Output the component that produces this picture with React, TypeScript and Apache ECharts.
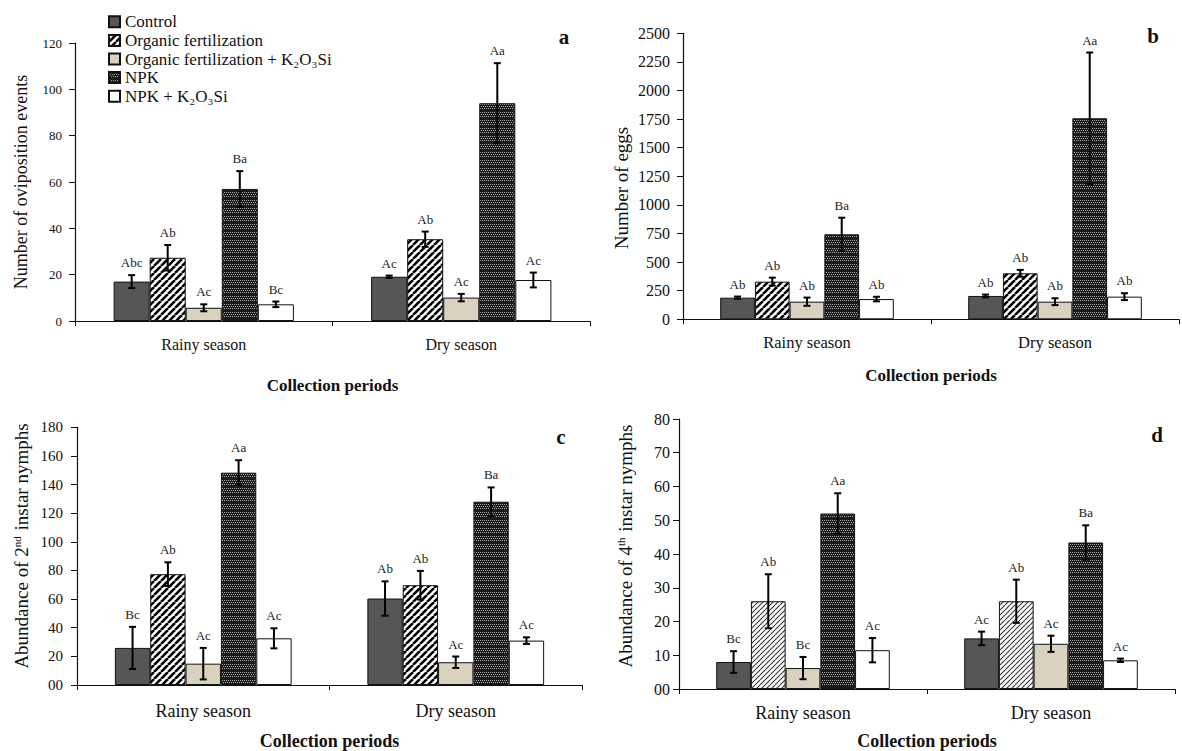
import React, { useEffect, useRef } from 'react';
import * as echarts from 'echarts';

// ---- data ---------------------------------------------------------------
const periods = ['Rainy season', 'Dry season'];
const treatments = [
  'Control',
  'Organic fertilization',
  'Organic fertilization + K₂O₃Si',
  'NPK',
  'NPK + K₂O₃Si',
];

// (a) number of oviposition events, one row per treatment: [rainy, dry]
const ovipositionMean = [[17, 19.1], [27.3, 35.3], [5.7, 10.1], [57, 94], [7.2, 17.7]];
const ovipositionErr = [[2.8, 0.5], [5.5, 3.3], [1.5, 1.6], [7.7, 17.3], [1.2, 3.2]];
const ovipositionLetters = [['Abc', 'Ac'], ['Ab', 'Ab'], ['Ac', 'Ac'], ['Ba', 'Aa'], ['Bc', 'Ac']];

// (b) number of eggs
const eggsMean = [[189, 204], [329, 402], [154, 154], [743, 1757], [177, 198]];
const eggsErr = [[10, 12], [35, 30], [36, 30], [145, 575], [20, 30]];
const eggsLetters = [['Ab', 'Ab'], ['Ab', 'Ab'], ['Ab', 'Ab'], ['Ba', 'Aa'], ['Ab', 'Ab']];

// (c) abundance of 2nd instar nymphs
const nymph2Mean = [[25.9, 60.4], [77.4, 69.7], [14.9, 15.9], [148.3, 128], [32.6, 31]];
const nymph2Err = [[14.7, 12], [8.3, 10], [11, 4], [8.7, 10], [7, 2.3]];
const nymph2Letters = [['Bc', 'Ab'], ['Ab', 'Ab'], ['Ac', 'Ac'], ['Aa', 'Ba'], ['Ac', 'Ac']];

// (d) abundance of 4th instar nymphs
const nymph4Mean = [[8, 15], [26, 26], [6.2, 13.4], [52, 43.4], [11.5, 8.5]];
const nymph4Err = [[3.2, 2], [8, 6.4], [3.3, 2.4], [6, 5.1], [3.6, 0.5]];
const nymph4Letters = [['Bc', 'Ac'], ['Ab', 'Ab'], ['Bc', 'Ac'], ['Aa', 'Ba'], ['Ac', 'Ac']];

// ---- styling helpers -----------------------------------------------------
const SERIF = 'Liberation Serif';
const INK = '#111';

function stripes(size: number, lineW: number, color: string) {
  const c = document.createElement('canvas');
  c.width = size;
  c.height = size;
  const g = c.getContext('2d')!;
  g.fillStyle = '#fff';
  g.fillRect(0, 0, size, size);
  g.strokeStyle = color;
  g.lineWidth = lineW;
  for (let k = -1; k <= 1; k++) {
    g.beginPath();
    g.moveTo(k * size, size);
    g.lineTo(k * size + size, 0);
    g.stroke();
  }
  return { image: c, repeat: 'repeat', imageWidth: size, imageHeight: size } as any;
}

function dotted() {
  const w = 4;
  const h = 8;
  const c = document.createElement('canvas');
  c.width = w;
  c.height = h;
  const g = c.getContext('2d')!;
  g.fillStyle = '#1c1c1c';
  g.fillRect(0, 0, w, h);
  g.fillStyle = '#a8a8a8';
  for (let y = 0; y < h; y += 2) {
    if (y === 6) continue;
    for (let x = (y / 2) % 2; x < w; x += 2) g.fillRect(x, y, 1, 1);
  }
  return { image: c, repeat: 'repeat', imageWidth: w, imageHeight: h } as any;
}

interface Panel {
  mean: number[][];
  err: number[][];
  letters: string[][];
  grid: { left: number; top: number; width: number; height: number };
  max: number;
  interval: number;
  zeroLabel: string;
  tickFont: number;
  tickMargin: number;
  catFont: number;
  catMargin: number;
  nameGap: number;
  nameFont: number;
  thinStripes?: boolean;
}

const panels: Panel[] = [
  {
    mean: ovipositionMean, err: ovipositionErr, letters: ovipositionLetters,
    grid: { left: 75, top: 43, width: 515, height: 278 },
    max: 120, interval: 20, zeroLabel: '0', tickFont: 13, tickMargin: 13,
    catFont: 16, catMargin: 15, nameGap: 56, nameFont: 17,
  },
  {
    mean: eggsMean, err: eggsErr, letters: eggsLetters,
    grid: { left: 683, top: 33.3, width: 496, height: 286 },
    max: 2500, interval: 250, zeroLabel: '0', tickFont: 16, tickMargin: 13,
    catFont: 16.5, catMargin: 15, nameGap: 48, nameFont: 17,
  },
  {
    mean: nymph2Mean, err: nymph2Err, letters: nymph2Letters,
    grid: { left: 77, top: 427.3, width: 505, height: 261 },
    max: 180, interval: 20, zeroLabel: '00', tickFont: 15, tickMargin: 14,
    catFont: 18, catMargin: 17, nameGap: 47, nameFont: 18,
  },
  {
    mean: nymph4Mean, err: nymph4Err, letters: nymph4Letters,
    grid: { left: 679, top: 419, width: 496, height: 274.3 },
    max: 80, interval: 10, zeroLabel: '00', tickFont: 16, tickMargin: 9,
    catFont: 18, catMargin: 15, nameGap: 43, nameFont: 18, thinStripes: true,
  },
];

const GROUP_SHARE = 0.7; // share of each category band covered by the bars

export default function App() {
  const ref = useRef<HTMLDivElement>(null);

  useEffect(() => {
    if (!ref.current) return;
    const chart = echarts.init(ref.current, undefined, { renderer: 'svg' });

    const fills = [
      '#565656',
      stripes(7, 2.6, '#000'),
      '#d8d2be',
      dotted(),
      '#ffffff',
    ];
    const thinFill = stripes(5, 1.1, '#333');

    const grids: any[] = [];
    const xAxes: any[] = [];
    const yAxes: any[] = [];
    const series: any[] = [];

    panels.forEach((p, pi) => {
      grids.push({ ...p.grid, containLabel: false });
      xAxes.push({
        type: 'category',
        gridIndex: pi,
        data: periods,
        axisLine: { show: true, lineStyle: { color: INK, width: 1.2 } },
        axisTick: { show: true, length: 5, alignWithLabel: false, lineStyle: { color: INK } },
        axisLabel: { fontFamily: SERIF, fontSize: p.catFont, color: INK, margin: p.catMargin },
        name: 'Collection periods',
        nameLocation: 'middle',
        nameGap: p.nameGap,
        nameTextStyle: { fontFamily: SERIF, fontSize: p.nameFont, fontWeight: 'bold', color: INK },
      });
      yAxes.push({
        type: 'value',
        gridIndex: pi,
        min: 0,
        max: p.max,
        interval: p.interval,
        splitLine: { show: false },
        axisLine: { show: true, lineStyle: { color: INK, width: 1.2 } },
        axisTick: { show: true, length: 6, lineStyle: { color: INK } },
        axisLabel: {
          fontFamily: SERIF,
          fontSize: p.tickFont,
          color: INK,
          margin: p.tickMargin,
          formatter: (v: number) => (v === 0 ? p.zeroLabel : String(v)),
        },
      });

      treatments.forEach((name, ti) => {
        const fill = ti === 1 && p.thinStripes ? thinFill : fills[ti];
        series.push({
          type: 'bar',
          name,
          xAxisIndex: pi,
          yAxisIndex: pi,
          barGap: '0%',
          barCategoryGap: '30%',
          data: p.mean[ti],
          itemStyle: { color: fill, borderColor: INK, borderWidth: 1 },
          emphasis: { disabled: true },
          z: 2,
        });
      });

      // error bars and significance letters, one custom series per treatment
      treatments.forEach((_, ti) => {
        series.push({
          type: 'custom',
          xAxisIndex: pi,
          yAxisIndex: pi,
          z: 5,
          clip: false,
          silent: true,
          data: p.mean[ti].map((m, ci) => [ci, m, p.err[ti][ci]]),
          renderItem: (params: any, api: any) => {
            const ci = api.value(0);
            const m = api.value(1);
            const e = api.value(2);
            const band = api.size([1, 0])[0];
            const bw = (band * GROUP_SHARE) / treatments.length;
            const center = api.coord([ci, 0])[0];
            const x = center - (band * GROUP_SHARE) / 2 + bw * (ti + 0.5);
            const yTop = api.coord([ci, m + e])[1];
            const yBot = api.coord([ci, Math.max(m - e, 0)])[1];
            const cap = 3.5;
            const ls = { stroke: '#000', lineWidth: 2 };
            return {
              type: 'group',
              children: [
                { type: 'line', shape: { x1: x, y1: yTop, x2: x, y2: yBot }, style: ls },
                { type: 'line', shape: { x1: x - cap, y1: yTop, x2: x + cap, y2: yTop }, style: ls },
                { type: 'line', shape: { x1: x - cap, y1: yBot, x2: x + cap, y2: yBot }, style: ls },
                {
                  type: 'text',
                  x,
                  y: yTop - 6,
                  style: {
                    text: p.letters[ti][params.dataIndex],
                    align: 'center',
                    verticalAlign: 'bottom',
                    fontFamily: SERIF,
                    fontSize: 13,
                    fill: '#222',
                  },
                },
              ],
            };
          },
        });
      });
    });

    const yName = (x: number, y: number, text: string, size: number, rich?: boolean) => ({
      type: 'text',
      x,
      y,
      rotation: Math.PI / 2,
      style: {
        text,
        align: 'center',
        verticalAlign: 'middle',
        fontFamily: SERIF,
        fontSize: size,
        fill: INK,
        rich: rich
          ? { s: { fontFamily: SERIF, fontSize: 11, verticalAlign: 'top', fill: INK, padding: [0, 1, 0, 0] } }
          : undefined,
      },
    });
    const panelTag = (x: number, y: number, text: string) => ({
      type: 'text',
      x,
      y,
      style: {
        text,
        align: 'center',
        verticalAlign: 'middle',
        fontFamily: SERIF,
        fontSize: 21,
        fontWeight: 'bold',
        fill: INK,
      },
    });

    chart.setOption({
      animation: false,
      textStyle: { fontFamily: SERIF },
      legend: {
        data: treatments,
        orient: 'vertical',
        left: 108,
        top: 12.5,
        padding: 0,
        itemGap: 0,
        itemWidth: 11,
        itemHeight: 11,
        icon: 'rect',
        selectedMode: false,
        textStyle: { fontFamily: SERIF, fontSize: 17, color: INK, lineHeight: 18.6 },
      },
      grid: grids,
      xAxis: xAxes,
      yAxis: yAxes,
      series,
      graphic: [
        yName(21, 182, 'Number of oviposition events', 18),
        yName(621, 188, 'Number of eggs', 19),
        yName(21, 546, 'Abundance of 2{s|nd} instar nymphs', 19, true),
        yName(625, 546, 'Abundance of 4{s|th} instar nymphs', 19, true),
        panelTag(564, 37, 'a'),
        panelTag(1153, 36, 'b'),
        panelTag(561, 437, 'c'),
        panelTag(1157, 435, 'd'),
      ],
    });

    return () => chart.dispose();
  }, []);

  return (
    <div
      ref={ref}
      style={{ position: 'fixed', left: 0, top: 0, width: 1182, height: 751, background: '#fff' }}
    />
  );
}
